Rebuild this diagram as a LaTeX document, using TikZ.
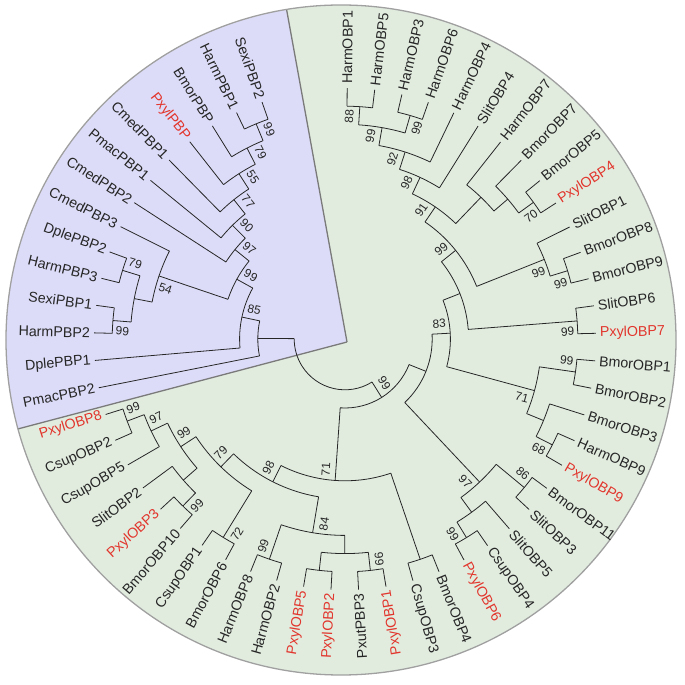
\documentclass[tikz,border=0pt]{standalone}
\usepackage{fontspec}
\setmainfont{Liberation Sans}
\usetikzlibrary{calc}
\definecolor{obpgreen}{HTML}{E1ECDF}
\definecolor{pbpblue}{HTML}{DCDCF8}
\definecolor{pxyred}{HTML}{E2352C}
\definecolor{ink}{HTML}{262626}
\definecolor{rimgray}{HTML}{A0A0A0}
\definecolor{wedgegray}{HTML}{7A7A7A}

\tikzset{
  branch/.style={draw=ink, line width=0.8pt},
  taxon/.style={inner sep=0pt, font=\fontsize{14.3}{16}\selectfont},
  boot/.style={inner sep=0pt, text=ink, font=\fontsize{12}{14}\selectfont},
}

% internal node: radial to its parent and arc over its children
\newcommand{\clade}[7]{%
  \coordinate (#1) at (#2:{251-18.2*#3});
  \coordinate (#1-in) at (#2:{251-18.2*#4});
  \draw[branch] (#5-in) arc[start angle=#6, end angle=#7, radius={251-18.2*#3}];
  \draw[branch] (#1-in) -- (#1);
}
% bootstrap value beside a node
\newcommand{\bootval}[5]{%
  \pgfmathsetmacro{\br}{241-18.2*#3}
  \pgfmathsetmacro{\ba}{#2#4573/\br}
  \pgfmathsetmacro{\bt}{ifthenelse(#2>-77.5,#2,#2+180)}
  \node[boot, rotate=\bt] (#1-bs) at (\ba:\br) {#5};
}

\begin{document}
\begin{tikzpicture}[x=1bp, y=1bp]
\useasboundingbox (-345,-346) rectangle (340,339);
\coordinate (disc) at (-4,-1);
\coordinate (apex) at (2,-3);

% background disc and PBP wedge
\fill[obpgreen] (disc) circle[radius=335];
\begin{scope}
  \clip (disc) circle[radius=335];
  \fill[pbpblue] (apex) -- +(100.3:420) -- +(147:520) -- +(194.8:420) -- cycle;
  \draw[wedgegray, line width=1.3pt] (apex) -- +(100.3:420);
  \draw[wedgegray, line width=1.3pt] (apex) -- +(194.8:420);
\end{scope}
\draw[rimgray, line width=1.3pt] (disc) circle[radius=335];

% leaves, clockwise from the top
\foreach \lf/\ph/\col [count=\k from 0] in {
    HarmOBP1/1/ink, HarmOBP5/1/ink, HarmOBP3/1/ink, HarmOBP6/1/ink,
    HarmOBP4/3/ink, SlitOBP4/4/ink, HarmOBP7/3/ink, BmorOBP7/2/ink,
    BmorOBP5/1/ink, PxylOBP4/1/pxyred, SlitOBP1/2/ink, BmorOBP8/1/ink,
    BmorOBP9/1/ink, SlitOBP6/1/ink, PxylOBP7/1/pxyred, BmorOBP1/1/ink,
    BmorOBP2/1/ink, BmorOBP3/2/ink, HarmOBP9/1/ink, PxylOBP9/1/pxyred,
    BmorOBP11/1/ink, SlitOBP3/1/ink, SlitOBP5/2/ink, CsupOBP4/1/ink,
    PxylOBP6/1/pxyred, BmorOBP4/1/ink, CsupOBP3/1/ink, PxylOBP1/1/pxyred,
    PxutPBP3/1/ink, PxylOBP2/1/pxyred, PxylOBP5/1/pxyred, HarmOBP2/1/ink,
    HarmOBP8/1/ink, BmorOBP6/1/ink, CsupOBP1/1/ink, BmorOBP10/1/ink,
    PxylOBP3/1/pxyred, SlitOBP2/2/ink, CsupOBP5/2/ink, CsupOBP2/1/ink,
    PxylOBP8/1/pxyred, PmacPBP2/9/ink, DplePBP1/8/ink, HarmPBP2/1/ink,
    SexiPBP1/1/ink, HarmPBP3/1/ink, DplePBP2/1/ink, CmedPBP3/3/ink,
    CmedPBP2/6/ink, PmacPBP1/5/ink, CmedPBP1/4/ink, PxylPBP/3/pxyred,
    BmorPBP/2/ink, HarmPBP1/1/ink, SexiPBP2/1/ink} {
  \pgfmathsetmacro{\a}{89.5-6.3*\k}
  \coordinate (\lf) at (\a:251);
  \coordinate (\lf-in) at (\a:{251-18.2*\ph});
  \draw[branch] (\lf-in) -- (\lf);
  \ifnum\k<27
    \node[taxon, text=\col, anchor=west, rotate=\a] (\lf-name) at (\a:255) {\lf};
  \else
    \node[taxon, text=\col, anchor=east, rotate=\a+180] (\lf-name) at (\a:255) {\lf};
  \fi
}

% OBP clade
\clade{A1}{86.35}{1}{2}{HarmOBP1}{89.5}{83.2}
\clade{A2}{73.75}{1}{2}{HarmOBP3}{76.9}{70.6}
\clade{A3}{80.05}{2}{3}{A1}{86.35}{73.75}
\clade{A4}{72.175}{3}{4}{A3}{80.05}{64.3}
\clade{A5}{65.0875}{4}{5}{A4}{72.175}{58}
\clade{B1}{35.95}{1}{2}{BmorOBP5}{39.1}{32.8}
\clade{B2}{40.675}{2}{3}{BmorOBP7}{45.4}{35.95}
\clade{B3}{46.1875}{3}{5}{HarmOBP7}{51.7}{40.675}
\clade{A6}{55.6375}{5}{6}{A5}{65.0875}{46.1875}
\clade{C1}{17.05}{1}{2}{BmorOBP8}{20.2}{13.9}
\clade{C2}{21.775}{2}{6}{SlitOBP1}{26.5}{17.05}
\clade{C3}{38.70625}{6}{7}{A6}{55.6375}{21.775}
\clade{D1}{4.45}{1}{7}{SlitOBP6}{7.6}{1.3}
\clade{C4}{21.578}{7}{8}{C3}{38.70625}{4.45}
\clade{E1}{-8.15}{1}{3}{BmorOBP1}{-5}{-11.3}
\clade{E2}{-27.05}{1}{2}{HarmOBP9}{-23.9}{-30.2}
\clade{E3}{-22.325}{2}{3}{BmorOBP3}{-17.6}{-27.05}
\clade{E}{-15.2375}{3}{8}{E1}{-8.15}{-22.325}
\clade{C5}{3.17}{8}{9}{C4}{21.578}{-15.2375}
\clade{Q1}{-39.65}{1}{3}{BmorOBP11}{-36.5}{-42.8}
\clade{Q2}{-58.55}{1}{2}{CsupOBP4}{-55.4}{-61.7}
\clade{Q3}{-53.825}{2}{3}{SlitOBP5}{-49.1}{-58.55}
\clade{Q}{-46.7375}{3}{9}{Q1}{-39.65}{-53.825}
\clade{C6}{-21.78}{9}{10}{C5}{3.17}{-46.7375}
\clade{J}{-71.15}{1}{6}{BmorOBP4}{-68}{-74.3}
\clade{P3}{-83.75}{1}{2}{PxylOBP1}{-80.6}{-86.9}
\clade{P2}{-96.35}{1}{2}{PxylOBP2}{-93.2}{-99.5}
\clade{P4}{-90.05}{2}{3}{P3}{-83.75}{-96.35}
\clade{P1}{-108.95}{1}{3}{HarmOBP2}{-105.8}{-112.1}
\clade{L}{-99.5}{3}{5}{P4}{-90.05}{-108.95}
\clade{O1}{-121.55}{1}{4}{BmorOBP6}{-118.4}{-124.7}
\clade{N1}{-134.15}{1}{2}{BmorOBP10}{-131}{-137.3}
\clade{N2}{-138.875}{2}{3}{N1}{-134.15}{-143.6}
\clade{M1}{-159.35}{1}{2}{CsupOBP2}{-156.2}{-162.5}
\clade{M2}{-154.625}{2}{3}{CsupOBP5}{-149.9}{-159.35}
\clade{M3}{-146.75}{3}{4}{N2}{-138.875}{-154.625}
\clade{K}{-134.15}{4}{5}{O1}{-121.55}{-146.75}
\clade{I}{-116.825}{5}{6}{L}{-99.5}{-134.15}
\clade{H}{-93.99}{6}{10}{J}{-71.15}{-116.825}
\clade{G}{-57.885}{10}{11}{C6}{-21.78}{-93.99}

% PBP clade
\clade{U4}{-184.55}{1}{2}{HarmPBP2}{-181.4}{-187.7}
\clade{U3}{-197.15}{1}{2}{HarmPBP3}{-194}{-200.3}
\clade{U2}{-190.85}{2}{3}{U4}{-184.55}{-197.15}
\clade{U}{-198.725}{3}{7}{U2}{-190.85}{-206.6}
\clade{T1}{-247.55}{1}{2}{HarmPBP1}{-244.4}{-250.7}
\clade{T2}{-242.825}{2}{3}{BmorPBP}{-238.1}{-247.55}
\clade{T3}{-237.3125}{3}{4}{PxylPBP}{-231.8}{-242.825}
\clade{T4}{-231.41}{4}{5}{CmedPBP1}{-225.5}{-237.3125}
\clade{T5}{-225.3}{5}{6}{PmacPBP1}{-219.2}{-231.41}
\clade{T6}{-219.1}{6}{7}{CmedPBP2}{-212.9}{-225.3}
\clade{T7}{-208.91}{7}{8}{U}{-198.725}{-219.1}
\clade{T8}{-192.0}{8}{9}{DplePBP1}{-175.1}{-208.91}
\clade{S}{-180.4}{9}{11}{PmacPBP2}{-168.8}{-192.0}

% root arc
\draw[branch] (G-in) arc[start angle=-57.885, end angle=-180.4, radius=50.8];

% bootstrap values
\bootval{A1}{86.35}{1}{+}{88}
\bootval{A2}{73.75}{1}{-}{99}
\bootval{A3}{80.05}{2}{+}{99}
\bootval{A4}{72.175}{3}{+}{92}
\bootval{A5}{65.0875}{4}{+}{98}
\bootval{A6}{55.6375}{5}{+}{91}
\bootval{B1}{35.95}{1}{-}{70}
\bootval{C1}{17.05}{1}{-}{99}
\bootval{C2}{21.775}{2}{-}{99}
\bootval{C3}{38.70625}{6}{+}{99}
\bootval{D1}{4.45}{1}{-}{99}
\bootval{E1}{-8.15}{1}{+}{99}
\bootval{E2}{-27.05}{1}{-}{68}
\bootval{E}{-15.2375}{3}{-}{71}
\bootval{C5}{3.17}{8}{+}{83}
\bootval{Q1}{-39.65}{1}{+}{86}
\bootval{Q2}{-58.55}{1}{-}{99}
\bootval{Q}{-46.7375}{3}{-}{97}
\bootval{P3}{-83.75}{1}{+}{66}
\bootval{P1}{-108.95}{1}{-}{99}
\bootval{L}{-99.5}{3}{+}{84}
\bootval{O1}{-121.55}{1}{+}{72}
\bootval{N1}{-134.15}{1}{+}{99}
\bootval{M1}{-159.35}{1}{-}{99}
\bootval{M2}{-154.625}{2}{-}{97}
\bootval{M3}{-146.75}{3}{-}{99}
\bootval{K}{-134.15}{4}{-}{79}
\bootval{I}{-116.825}{5}{-}{98}
\bootval{H}{-93.99}{6}{-}{71}
\bootval{G}{-57.885}{10}{+}{99}
\bootval{U4}{-184.55}{1}{+}{99}
\bootval{U3}{-197.15}{1}{-}{79}
\bootval{U}{-198.725}{3}{+}{54}
\bootval{T1}{-247.55}{1}{-}{99}
\bootval{T2}{-242.825}{2}{-}{79}
\bootval{T3}{-237.3125}{3}{-}{55}
\bootval{T4}{-231.41}{4}{-}{77}
\bootval{T5}{-225.3}{5}{-}{90}
\bootval{T6}{-219.1}{6}{-}{97}
\bootval{T7}{-208.91}{7}{-}{99}
\bootval{T8}{-192.0}{8}{-}{85}
\end{tikzpicture}
\end{document}
